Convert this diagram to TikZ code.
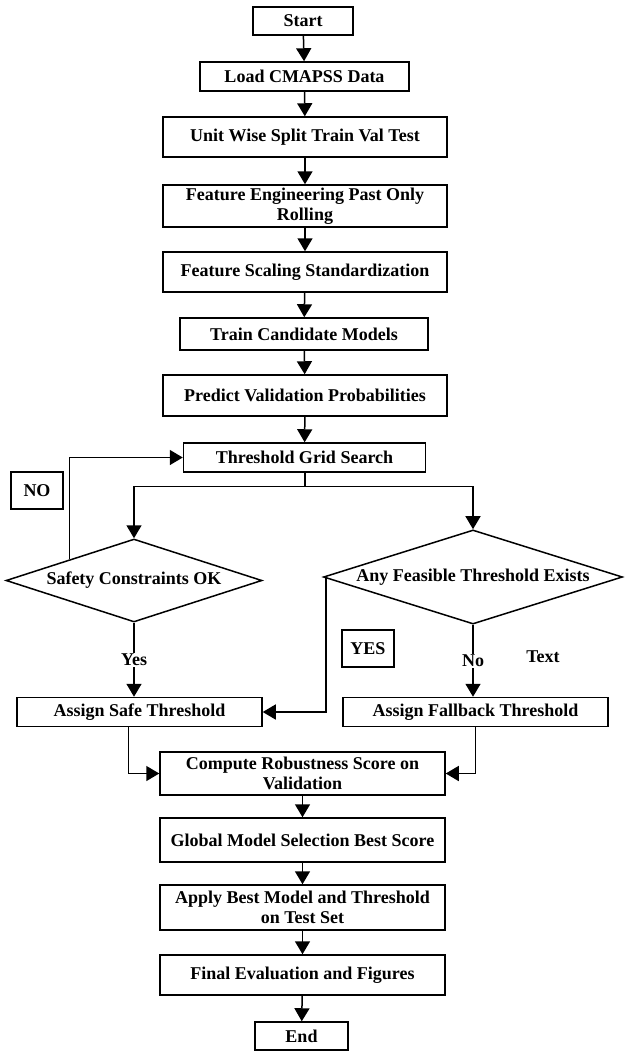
\documentclass[tikz,border=0pt]{standalone}
\usepackage{fontspec}
\setmainfont{Liberation Serif}
\usetikzlibrary{arrows.meta,shapes.geometric}
\tikzset{
  box/.style={draw, line width=1.5pt, inner sep=0pt, align=center, font=\bfseries\fontsize{18}{20}\selectfont},
  dia/.style={draw, diamond, line width=1.5pt, inner sep=0pt, aspect=3, font=\bfseries\fontsize{18}{20}\selectfont},
  lbl/.style={inner sep=1pt, font=\bfseries\fontsize{18}{20}\selectfont},
  arr/.style={line width=1.5pt, -{Triangle[length=13pt,width=15pt]}},
  ln/.style={line width=1.5pt}
}
\begin{document}
\begin{tikzpicture}[x=1pt,y=-1pt]
\useasboundingbox (0,0) rectangle (624,1052);
\node[box, minimum width=100, minimum height=28] (start) at (303,21) {Start};
\node[box, minimum width=209, minimum height=29] (load) at (304.5,76.5) {Load CMAPSS Data};
\node[box, minimum width=284, minimum height=40] (unit) at (305,137) {Unit Wise Split Train Val Test};
\node[box, minimum width=284, minimum height=42] (feat) at (305,206) {Feature Engineering Past Only\\Rolling};
\node[box, minimum width=284, minimum height=40] (scale) at (305,272) {Feature Scaling Standardization};
\node[box, minimum width=248, minimum height=32] (train) at (304,334) {Train Candidate Models};
\node[box, minimum width=284, minimum height=41] (pred) at (305,395.5) {Predict Validation Probabilities};
\node[box, minimum width=242, minimum height=29] (grid) at (304.5,457.5) {Threshold Grid Search};
\node[dia, minimum width=256, minimum height=83] (safety) at (134,580.5) {Safety Constraints OK};
\node[dia, minimum width=299, minimum height=94] (any) at (473,577) {Any Feasible Threshold Exists};
\node[box, minimum width=52, minimum height=37] (no) at (37,490.5) {NO};
\node[box, minimum width=52, minimum height=37] (yes) at (368,648.5) {YES};
\node[lbl] (txt) at (543,657) {Text};
\node[box, minimum width=245, minimum height=29] (safe) at (139.5,712) {Assign Safe Threshold};
\node[box, minimum width=265, minimum height=29] (fall) at (475.5,712) {Assign Fallback Threshold};
\node[box, minimum width=285, minimum height=43] (comp) at (302.5,773.5) {Compute Robustness Score on\\Validation};
\node[box, minimum width=285, minimum height=44] (glob) at (302.5,840) {Global Model Selection Best Score};
\node[box, minimum width=285, minimum height=45] (apply) at (302.5,907.5) {Apply Best Model and Threshold\\on Test Set};
\node[box, minimum width=285, minimum height=40] (final) at (302.5,975) {Final Evaluation and Figures};
\node[box, minimum width=93, minimum height=28] (end) at (301.5,1036) {End};

\draw[arr] (start) -- (load);
\draw[arr] (load) -- (unit);
\draw[arr] (unit) -- (feat);
\draw[arr] (feat) -- (scale);
\draw[arr] (scale) -- (train);
\draw[arr] (train) -- (pred);
\draw[arr] (pred) -- (grid);
\coordinate (br) at (305,486.5);
\draw[ln] (grid.south -| br) -- (br);
\draw[arr] (br) -| (safety.north);
\draw[arr] (br) -| (any.north);
\draw[arr] (safety.north west) |- (grid.west);
\draw[arr] (safety.south) -- node[lbl, fill=white, pos=0.5] (yeslbl) {Yes} (safety.south |- safe.north);
\draw[arr] (any.south) -- node[lbl, fill=white, pos=0.5] (nolbl) {No} (any.south |- fall.north);
\draw[arr] ([xshift=3pt]any.west) |- (safe.east);
\draw[arr] ([xshift=-11pt]safe.south) |- (comp.west);
\draw[arr] (fall.south) |- (comp.east);
\draw[arr] (comp) -- (glob);
\draw[arr] (glob) -- (apply);
\draw[arr] (apply) -- (final);
\draw[arr] (final) -- (end);
\end{tikzpicture}
\end{document}
